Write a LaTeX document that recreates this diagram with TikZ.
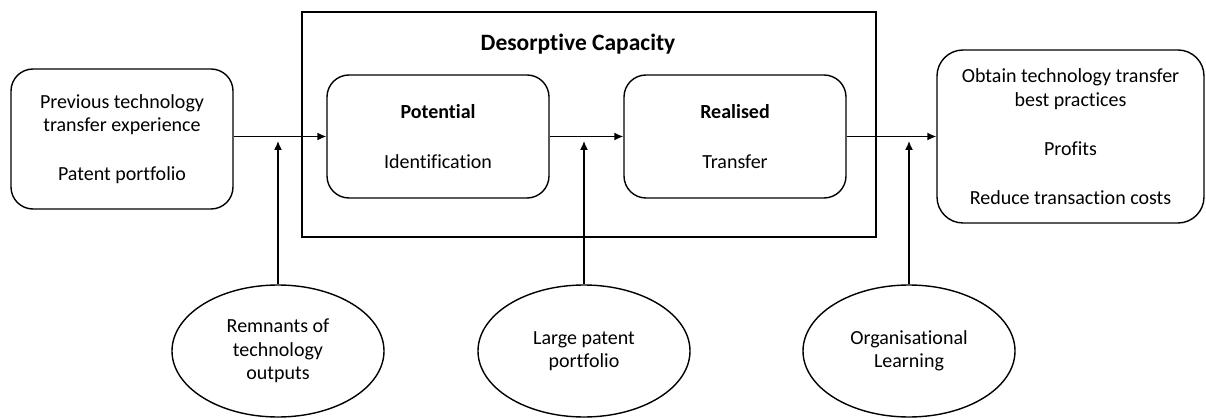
\documentclass[tikz,border=0pt]{standalone}
\usepackage{fontspec}
\setmainfont{Carlito}[Ligatures=NoCommon]
\usetikzlibrary{arrows.meta,shapes.geometric}
\begin{document}
\begin{tikzpicture}[x=1pt,y=-1pt,
  line width=1.4pt,
  txt/.style={font=\fontsize{20}{23.5}\selectfont, align=center},
  rbox/.style={draw, rounded corners=22pt, txt, inner sep=0pt},
  oval/.style={draw, ellipse, txt, minimum width=212pt, minimum height=132pt, inner sep=0pt},
  flow/.style={-{Latex[length=9pt,width=8pt]}},
]
\useasboundingbox (0,0) rectangle (1206,419);

% outer frame of the capacity block and its title
\node[draw, inner sep=0pt, minimum width=574pt, minimum height=225pt] (dc) at (589,124.5) {};
\node[font=\fontsize{23.5}{28}\selectfont\bfseries] (title) at (578,44) {Desorptive Capacity};

% process boxes
\node[rbox, minimum width=222pt, minimum height=140pt] (prev) at (122,139)
  {Previous technology\\transfer experience\\[25pt]Patent portfolio};
\node[rbox, minimum width=222pt, minimum height=123pt] (pot) at (438,136.5)
  {\textbf{Potential}\\[27pt]Identification};
\node[rbox, minimum width=222pt, minimum height=123pt] (real) at (735,136.5)
  {\textbf{Realised}\\[27pt]Transfer};
\node[rbox, rounded corners=26pt, minimum width=267pt, minimum height=173pt] (out) at (1070.5,136.5)
  {Obtain technology transfer\\best practices\\[26pt]Profits\\[25pt]Reduce transaction costs};

% moderating factors
\node[oval] (e1) at (278,351) {Remnants of\\technology\\outputs};
\node[oval] (e2) at (584,351) {Large patent\\portfolio};
\node[oval] (e3) at (909,351) {Organisational\\Learning};

% main flow
\draw[flow] (prev.east |- pot.west) -- (pot.west);
\draw[flow] (pot.east) -- (real.west);
\draw[flow] (real.east) -- (real.east -| out.west);

% moderating arrows
\coordinate (j1) at (278,141);
\coordinate (j2) at (584,141);
\coordinate (j3) at (909,141);
\draw[flow] (e1) -- (j1);
\draw[flow] (e2) -- (j2);
\draw[flow] (e3) -- (j3);
\end{tikzpicture}
\end{document}
